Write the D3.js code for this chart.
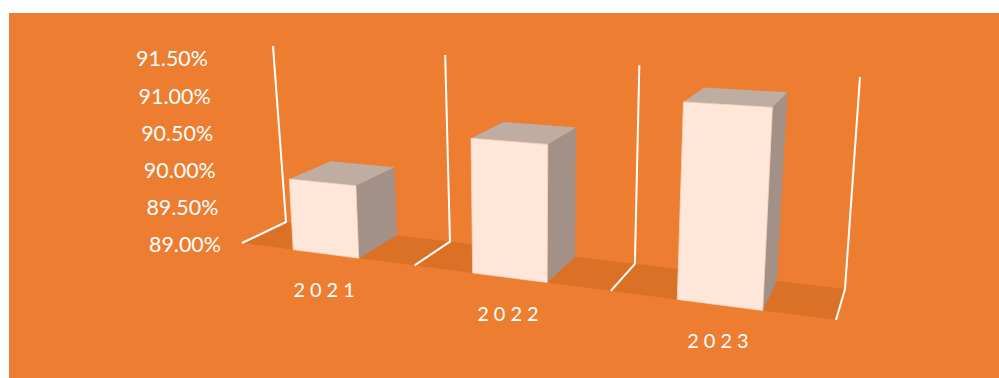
<!DOCTYPE html>
<html>
<head>
<meta charset="utf-8">
<script src="https://cdn.jsdelivr.net/npm/d3@7"></script>
<style>
html,body{margin:0;padding:0;background:#fff;}
svg{display:block;}
text{font-family:Lato,"Open Sans",sans-serif;fill:#fff;}
</style>
</head>
<body>
<svg id="chart" width="999" height="378"></svg>
<script>
// Chart data
const years = ["2021", "2022", "2023"];
const rates = [89.93, 90.66, 91.27];
const rateTicks = [89, 89.5, 90, 90.5, 91, 91.5];

const W = 999, H = 378;
const colors = {bg:"#ED7D31", floor:"#DB7027", front:"#FEE6D8", top:"#BFADA1", side:"#A39187", edge:"#F4D5C2"};

// Corners of the 3D plot box on screen: [front-left, front-right, back-right, back-left]
const floorQuad = [[242,243],[836,320],[845,289],[286,222]];
const ceilQuad  = [[229,57],[850,91],[860,77],[273,46]];

// Unit square to quadrilateral perspective mapping for the floor
function squareToQuad(q){
  const [[x0,y0],[x1,y1],[x2,y2],[x3,y3]] = q;
  const dx1=x1-x2, dx2=x3-x2, sx=x0-x1+x2-x3;
  const dy1=y1-y2, dy2=y3-y2, sy=y0-y1+y2-y3;
  const den=dx1*dy2-dx2*dy1;
  const g=(sx*dy2-dx2*sy)/den, h=(dx1*sy-sx*dy1)/den;
  const a=x1-x0+g*x1, b=x3-x0+h*x3, c=x0;
  const d=y1-y0+g*y1, e=y3-y0+h*y3, f=y0;
  return (u,v)=>{const w=g*u+h*v+1; return [(a*u+b*v+c)/w,(d*u+e*v+f)/w];};
}
const floorMap = squareToQuad(floorQuad);
const lerp = (a,b,t) => [a[0]+(b[0]-a[0])*t, a[1]+(b[1]-a[1])*t];

// The ceiling reuses the floor's spacing along its front and back edges
function ceilMap(u,d){
  const tf=(floorMap(u,0)[0]-floorQuad[0][0])/(floorQuad[1][0]-floorQuad[0][0]);
  const tb=(floorMap(u,1)[0]-floorQuad[3][0])/(floorQuad[2][0]-floorQuad[3][0]);
  return lerp(lerp(ceilQuad[0],ceilQuad[1],tf), lerp(ceilQuad[3],ceilQuad[2],tb), d);
}

// u: along the category axis, d: depth, z: height; all normalised 0..1
function project(u,d,z){
  return lerp(floorMap(u,d), ceilMap(u,d), z);
}

const xBand = d3.scaleBand().domain(years).range([0,1]).paddingInner(0.62).paddingOuter(0.31);
const zScale = d3.scaleLinear().domain([89,91.5]).range([0,1]);
const line = d3.line();
const poly = pts => line(pts)+"Z";

const svg = d3.select("#chart");
svg.append("rect").attr("x",9).attr("y",13).attr("width",W-9).attr("height",H-13).attr("fill",colors.bg);

// Floor band
svg.append("path").attr("d",poly([project(0,0,0),project(1,0,0),project(1,1,0),project(0,1,0)])).attr("fill",colors.floor);

// Division lines: front edge to back edge, then up the wall
const divisions = d3.range(years.length+1).map(i=>i/years.length);
svg.append("g").selectAll("path").data(divisions).join("path")
  .attr("d",u=>line([project(u,0,0),project(u,1,0),project(u,1,1)]))
  .attr("fill","none").attr("stroke","#fff").attr("stroke-width",2).attr("stroke-linejoin","round");

// Bars
const data = years.map((y,i)=>({year:y,rate:rates[i]}));
const bars = svg.append("g").selectAll("g").data(data).join("g");
const barFace = (b,face)=>{
  const u0=xBand(b.year), u1=u0+xBand.bandwidth(), z=zScale(b.rate);
  if(face==="front") return poly([project(u0,0,0),project(u1,0,0),project(u1,0,z),project(u0,0,z)]);
  if(face==="side")  return poly([project(u1,0,0),project(u1,1,0),project(u1,1,z),project(u1,0,z)]);
  return poly([project(u0,0,z),project(u1,0,z),project(u1,1,z),project(u0,1,z)]);
};
bars.append("path").attr("d",b=>barFace(b,"side")).attr("fill",colors.side);
bars.append("path").attr("d",b=>barFace(b,"top")).attr("fill",colors.top);
bars.append("path").attr("d",b=>barFace(b,"front")).attr("fill",colors.front).attr("stroke",colors.edge).attr("stroke-width",0.8);

// Value axis labels along the front-left edge
svg.append("g").selectAll("text").data(rateTicks).join("text")
  .attr("x",t=>project(0,0,zScale(t))[0]-21)
  .attr("y",t=>project(0,0,zScale(t))[1]+4)
  .attr("text-anchor","end").attr("dominant-baseline","middle")
  .attr("font-size",21).attr("textLength",72).attr("lengthAdjust","spacingAndGlyphs")
  .text(t=>t.toFixed(2)+"%");

// Category labels below the front edge
svg.append("g").selectAll("text").data(years).join("text")
  .attr("x",y=>project(xBand(y)+xBand.bandwidth()/2,0,0)[0]+1)
  .attr("y",y=>project(xBand(y)+xBand.bandwidth()/2,0,0)[1]+38)
  .attr("text-anchor","middle").attr("dominant-baseline","middle")
  .attr("font-size",20).attr("letter-spacing",5)
  .text(y=>y);
</script>
</body>
</html>
